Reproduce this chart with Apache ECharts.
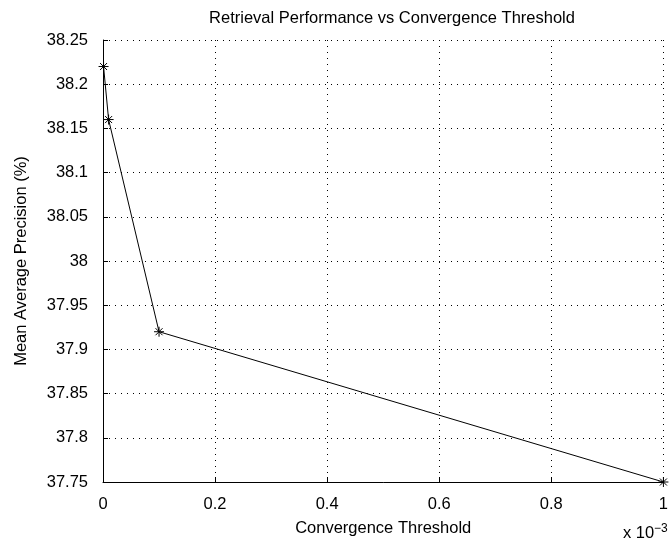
<!DOCTYPE html>
<html><head><meta charset="utf-8">
<script src="https://cdn.jsdelivr.net/npm/echarts@6/dist/echarts.min.js"></script>
<style>html,body{margin:0;padding:0;background:#fff}#c{width:671px;height:542px}</style>
</head><body><div id="c"></div>
<script>
var xValues = [0.001, 0.01, 0.1, 1];
var mapValues = [38.22, 38.16, 37.92, 37.75];
var titleText = 'Retrieval Performance vs Convergence Threshold';
var xLabel = 'Convergence Threshold';
var yLabel = 'Mean Average Precision (%)';
var scaleBase = 'x 10';
var scaleExp = '−3';

var chart = echarts.init(document.getElementById('c'));
var font = 'Liberation Sans, Arial, sans-serif';
var fs = 16.5;
chart.setOption({
  backgroundColor: '#fff',
  animation: false,
  title: { text: titleText, left: 387, top: 5, textAlign: 'center',
    textStyle: { fontFamily: font, fontSize: fs, fontWeight: 'normal', color: '#000' } },
  graphic: [
    { type: 'text', x: 623, y: 533, style: { text: scaleBase, fontFamily: font, fontSize: 16.5, fill: '#000', verticalAlign: 'middle', align: 'left' } },
    { type: 'text', x: 654, y: 529, style: { text: scaleExp, fontFamily: font, fontSize: 12, fill: '#000', verticalAlign: 'middle', align: 'left' } }
  ],
  grid: { left: 103, right: 4, top: 40, bottom: 58 },
  xAxis: {
    type: 'value', min: 0, max: 1, interval: 0.2,
    name: xLabel, nameLocation: 'middle', nameGap: 38,
    nameTextStyle: { fontFamily: font, fontSize: fs, color: '#000' },
    axisLine: { lineStyle: { color: '#000', width: 1 } },
    axisTick: { inside: true, length: 5, lineStyle: { color: '#000' } },
    axisLabel: { fontFamily: font, fontSize: fs, color: '#000', margin: 14,
      formatter: function(v){ return String(Math.round(v*10)/10); } },
    splitLine: { show: true, lineStyle: { color: '#000', type: [1,5], width: 1 } }
  },
  yAxis: {
    type: 'value', min: 37.75, max: 38.25, interval: 0.05,
    name: yLabel, nameLocation: 'middle', nameGap: 73, nameRotate: 90,
    nameTextStyle: { fontFamily: font, fontSize: fs, color: '#000' },
    axisLine: { show: true, lineStyle: { color: '#000', width: 1 } },
    axisTick: { show: true, inside: true, length: 5, lineStyle: { color: '#000' } },
    axisLabel: { fontFamily: font, fontSize: fs, color: '#000', margin: 15,
      formatter: function(v){ return String(Math.round(v*100)/100); } },
    splitLine: { show: true, lineStyle: { color: '#000', type: [1,5], width: 1 } }
  },
  series: [{
    type: 'line',
    data: xValues.map(function(x,i){ return [x, mapValues[i]]; }),
    lineStyle: { color: '#000', width: 1 },
    symbol: 'path://M0 5 L10 5 M5 0 L5 10 M1.5 1.5 L8.5 8.5 M8.5 1.5 L1.5 8.5',
    symbolSize: 10,
    itemStyle: { color: 'rgba(0,0,0,0)', borderColor: '#000', borderWidth: 1 },
    clip: false
  }]
});
</script></body></html>
